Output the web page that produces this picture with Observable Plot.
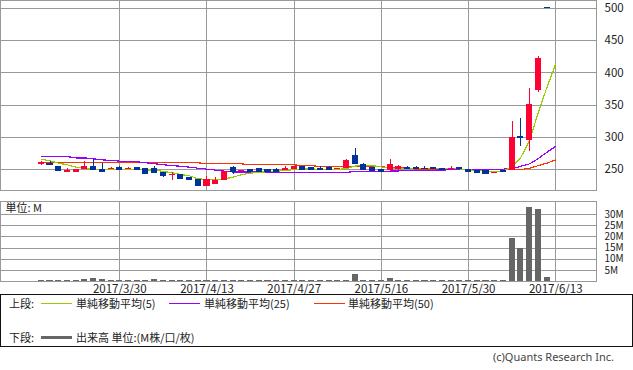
<!DOCTYPE html>
<html><head><meta charset="utf-8">
<script src="https://cdn.jsdelivr.net/npm/d3@7"></script>
<script src="https://cdn.jsdelivr.net/npm/@observablehq/plot@0.6"></script>
<style>
body{margin:0;background:#fff;font-family:"Noto Sans CJK JP","Noto Sans",sans-serif;color:#222;}
#wrap{position:relative;width:633px;height:370px;overflow:hidden;background:#fff;}
#topPanel{position:absolute;left:0;top:0;}
#volPanel{position:absolute;left:0;top:201px;}
#legend{position:absolute;left:0;top:294px;width:631px;height:51px;border:1px solid #111;}
.lt{position:absolute;font-size:11px;line-height:14px;white-space:nowrap;}
.sw{position:absolute;}
#copy{position:absolute;right:19px;top:350px;font-size:11px;line-height:14px;color:#444;font-family:"Noto Sans",sans-serif;}
svg{overflow:visible;}
</style></head>
<body>
<div id="wrap">
  <div id="topPanel"></div>
  <div id="volPanel"></div>
  <div id="legend"></div>
  <div id="copy">(c)Quants Research Inc.</div>
</div>
<script>
// ---- data ----
const dates = ["3/16","3/17","3/21","3/22","3/23","3/24","3/27","3/28","3/29","3/30",
  "3/31","4/3","4/4","4/5","4/6","4/7","4/10","4/11","4/12","4/13",
  "4/14","4/17","4/18","4/19","4/20","4/21","4/24","4/25","4/26","4/27",
  "4/28","5/1","5/2","5/8","5/9","5/10","5/11","5/12","5/15","5/16",
  "5/17","5/18","5/19","5/22","5/23","5/24","5/25","5/26","5/29","5/30",
  "5/31","6/1","6/2","6/5","6/6","6/7","6/8","6/9","6/12","6/13"];
const open  = [257,260,255,246,246,250,255,250,250,253.5, 250,253,251.5,251.5,245,241.5,242,238,234.5,224,
  227,233,252.5,246.5,250,251.5,250,250,248.5,250, 255,252.5,252,253,250,252,271.5,258,253.5,250,
  248.5,250,253,253,252,253,251,250,253,250, 248.5,248,244,248,249,301,295.5,373,502,null];
const high  = [262,262,255,251,250,263,266,260,253,254.5, 253.5,253,251.5,255,245,245,242,238,234.5,239,
  237,247,255,249,250,251.5,250,251.5,254.5,255, 255,252.5,254,254,252,265.5,282.5,259.5,253.5,250,
  265.5,256.5,254,255,254.5,253,251,255,253,250, 248.5,248,245.5,248,325,329.5,376,426,502,null];
const low   = [256,256,249,246,246,250,250,245,250,250, 250,250,244,246,238,233.5,236.5,235,225,224,
  227,233,243,246.5,246.5,247.5,246.5,246.5,248.5,250, 250,248.5,250,250,250,252,259,250.5,249,246.5,
  247,248.5,251,251,251,251,250,250,251,247, 246,244.5,244,246.5,248,286,278.5,370,502,null];
const close = [261,257,249,249,250,255,250,247,252,250, 251.5,250,244.5,246,240,242,236.5,235,225,234.5,
  232.5,247,246.5,249,246.5,247.5,246.5,246.5,252,255, 250,250,250.5,250.5,252,264,259.5,250.5,249,246.5,
  258,255,251,251,251,251,250.5,251,251,247, 246,244.5,245.5,246.5,300,299,351,423,502,null];
const ma5  = [266,263.5,259.8,257.2,253.6,251.5,250,249.5,249.5,249.5, 249.5,249.5,249.5,249,247,244.8,242.2,240.2,235.5,234.5,
  233.4,235.5,238,242.2,244.3,246,246.4,247.4,248.4,250, 251,251,250,250,250,251.5,255.5,256,256,254,
  251.5,251.5,251,252,252,252,251,251,251,249.5, 248.5,247.5,247,247.5,255,269,295,339,378,414];
const ma25 = [270,270,270,270,268,268,266.5,265,264,263, 262,262,260.5,259,257.5,256,255,253.6,252,250.5,
  249,247.5,246,246,246,246,246,246,245.8,245.5, 245.2,245,245,245,245,245.5,247,247.4,247.4,247.4,
  247.5,247.8,248.2,248.8,249,249,249.3,249.5,249.8,250, 250,250,250,250.5,251.5,255,258.8,267,277,286];
const ma50 = [260.4,260.4,260.4,260.4,260.4,260.4,260.4,260.4,260.4,260.4, 260.4,260.4,260.4,260.4,260.4,260.4,260.4,260.4,260.4,258.8,
  258.8,258.8,258.8,258.8,257.2,257.2,257.2,257.2,257.2,257.2, 256,256,254.5,254.5,254.5,254.5,254.5,254.5,254.5,254.5,
  252.5,252.5,252.5,250.5,250.5,250.5,250.5,250.5,250.5,250.5, 249.5,249.5,249.5,249.5,249.5,250,252,256,260,265];
const volume = [0.6,0.3,0.6,0.6,0.3,1.1,1.55,0.7,0.3,0.3, 0.3,0.3,0.6,1.1,0.6,0.6,0.3,0.3,0.6,0.6,
  0.6,0.6,0.6,0.3,0.3,0.6,0.3,0.3,0.3,0.3, 0.3,0.3,0.3,0.3,0.3,0.6,3.3,0.6,0.6,0.6,
  1.4,0.6,0.6,0.3,0.6,0.6,0.3,0.6,0.3,0.6, 0.3,0.3,0.6,0.3,19.4,14.7,33.2,32.3,1.9,null];
const priceTicks = [250,300,350,400,450,500];
const volumeTicks = [5,10,15,20,25,30];
const dateTicks = ["3/30","4/13","4/27","5/16","5/30","6/13"];

(function () {
// colors
const UP = "#ff0033", DOWN = "#003399", GRID = "#999999";
const C5 = "#99cc00", C25 = "#9900ff", C50 = "#ff3300", VOLC = "#666666";

// ---- tables ----
const rows = dates.map((d, i) => ({i, d, o: open[i], h: high[i], l: low[i], c: close[i],
  m5: ma5[i], m25: ma25[i], m50: ma50[i], v: volume[i]}));
const candles = rows.filter(r => r.o != null);
const gridIdx = dateTicks.map(t => dates.indexOf(t));
const xDomain = [-4.68, 63.67];
const HW = 0.35;
const col = r => r.c > r.o ? UP : DOWN;
const font = '"Noto Sans CJK JP","Noto Sans",sans-serif';

const priceChart = Plot.plot({
  width: 633, height: 192, marginLeft: 0, marginRight: 37, marginTop: 0, marginBottom: 2,
  style: {fontFamily: font, fontSize: "11px", color: "#222", background: "transparent"},
  x: {domain: xDomain, axis: null},
  y: {domain: [217.4, 512.4], axis: null},
  color: {type: "identity"},
  marks: [
    Plot.ruleY(priceTicks, {stroke: GRID, shapeRendering: "crispEdges"}),
    Plot.ruleX(gridIdx, {stroke: GRID, shapeRendering: "crispEdges"}),
    Plot.frame({stroke: GRID, shapeRendering: "crispEdges"}),
    Plot.line(rows, {x: "i", y: "m50", stroke: C50, strokeWidth: 1.2, shapeRendering: "crispEdges"}),
    Plot.line(rows, {x: "i", y: "m25", stroke: C25, strokeWidth: 1.2, shapeRendering: "crispEdges"}),
    Plot.line(rows, {x: "i", y: "m5", stroke: C5, strokeWidth: 1.2, shapeRendering: "crispEdges"}),
    Plot.ruleX(candles, {x: "i", y1: "l", y2: "h", stroke: col, shapeRendering: "crispEdges"}),
    Plot.rect(candles, {x1: r => r.i - HW, x2: r => r.i + HW, y1: r => Math.min(r.o, r.c), y2: r => Math.max(r.o, r.c), fill: col, shapeRendering: "crispEdges"}),
    Plot.ruleY(candles, {x1: r => r.i - HW, x2: r => r.i + HW, y: "c", stroke: col, shapeRendering: "crispEdges"}),
    Plot.axisY(priceTicks, {anchor: "right", label: null, tickSize: 0, tickPadding: 8, fontSize: 11.5, fill: "#222"})
  ]
});
document.getElementById("topPanel").append(priceChart);

const volChart = Plot.plot({
  width: 633, height: 94, marginLeft: 0, marginRight: 37, marginTop: 0, marginBottom: 14,
  style: {fontFamily: font, fontSize: "11px", color: "#222", background: "transparent"},
  x: {domain: xDomain, axis: null},
  y: {domain: [0, 35.9], axis: null},
  marks: [
    Plot.ruleY(volumeTicks, {stroke: GRID, shapeRendering: "crispEdges"}),
    Plot.ruleX(gridIdx, {stroke: GRID, shapeRendering: "crispEdges"}),
    Plot.frame({stroke: GRID, shapeRendering: "crispEdges"}),
    Plot.rect(rows.filter(r => r.v != null), {x1: r => r.i - HW, x2: r => r.i + HW, y1: 0, y2: "v", fill: VOLC, shapeRendering: "crispEdges"}),
    Plot.axisY(volumeTicks, {anchor: "right", label: null, tickSize: 0, tickPadding: 8, fontSize: 10, fill: "#222", tickFormat: d => d + "M"}),
    Plot.axisX(gridIdx, {anchor: "bottom", label: null, tickSize: 0, tickPadding: 3, fontSize: 11.5, fill: "#222", tickFormat: i => "2017/" + dates[i]}),
    Plot.text(["単位: M"], {frameAnchor: "top-left", dx: 5, dy: 3, fontSize: 11, fill: "#222", lineAnchor: "top"})
  ]
});
document.getElementById("volPanel").append(volChart);

// ---- legend ----
const legendItems = [
  {row: 0, label: "上段:", x: 8},
  {row: 0, swatch: C5, x: 40, w: 31, t: 1},
  {row: 0, label: "単純移動平均(5)", x: 75},
  {row: 0, swatch: C25, x: 168, w: 31, t: 1},
  {row: 0, label: "単純移動平均(25)", x: 203},
  {row: 0, swatch: C50, x: 313, w: 31, t: 1},
  {row: 0, label: "単純移動平均(50)", x: 347},
  {row: 1, label: "下段:", x: 8},
  {row: 1, swatch: VOLC, x: 40, w: 31, t: 3},
  {row: 1, label: "出来高 単位:(M株/口/枚)", x: 75}
];
const rowY = [8, 42];
const lg = document.getElementById("legend");
legendItems.forEach(it => {
  const el = document.createElement("div");
  if (it.label) {
    el.className = "lt"; el.textContent = it.label;
    el.style.left = it.x + "px"; el.style.top = (rowY[it.row] - 7) + "px";
  } else {
    el.className = "sw"; el.style.background = it.swatch;
    el.style.left = it.x + "px"; el.style.width = it.w + "px";
    el.style.height = it.t + "px"; el.style.top = (rowY[it.row] - Math.floor(it.t / 2)) + "px";
  }
  lg.append(el);
});
})();
</script>
</body></html>
